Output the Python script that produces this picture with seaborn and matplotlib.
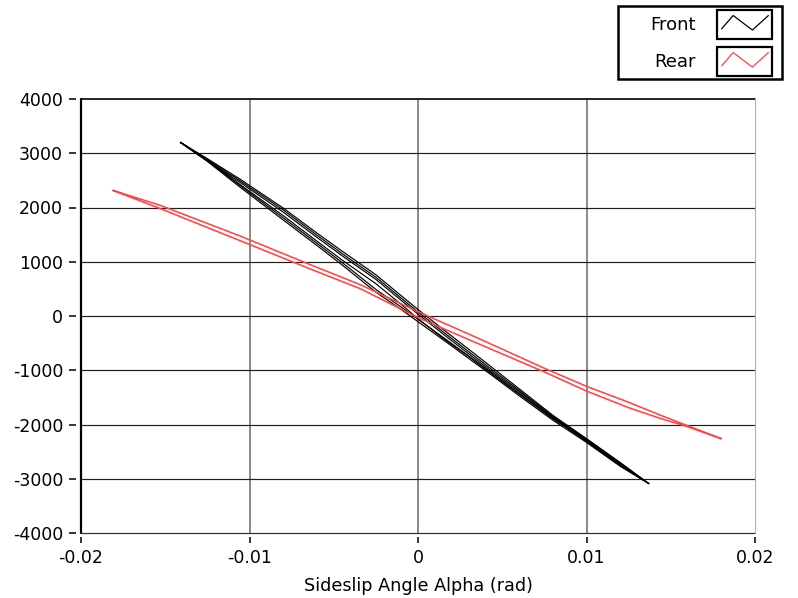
import numpy as np
import pandas as pd
import matplotlib
matplotlib.use("Agg")
import matplotlib.pyplot as plt
import seaborn as sns
from matplotlib.patches import Rectangle
from matplotlib.lines import Line2D
from matplotlib.legend_handler import HandlerBase

# ---------------- data ----------------
series_names = ["Front", "Rear"]
series_colors = ["#000000", "#ff4646"]

# Front axle: three hysteresis loops sharing the same alpha samples
front_alpha = [-0.0141, -0.0125, -0.0105, -0.0080, -0.0060, -0.0045, -0.0025, -0.0010, 0.0,
               0.0015, 0.0030, 0.0045, 0.0060, 0.0080, 0.0100, 0.0120, 0.0137]
front_up_a = [3200, 2900, 2510, 1990, 1530, 1195, 760, 375, 120, -250, -610, -975, -1340, -1830, -2260, -2700, -3090]
front_lo_a = [3200, 2850, 2360, 1770, 1300, 940, 440, 120, -105, -440, -780, -1120, -1470, -1920, -2330, -2770, -3090]
front_up_b = [3200, 2885, 2480, 1955, 1490, 1150, 715, 330, 75, -295, -655, -1015, -1370, -1850, -2270, -2715, -3090]
front_lo_b = [3200, 2860, 2390, 1810, 1340, 985, 490, 165, -60, -395, -735, -1075, -1425, -1880, -2315, -2760, -3090]
front_up_c = [3200, 2870, 2450, 1915, 1450, 1110, 675, 290, 35, -335, -695, -1050, -1395, -1865, -2280, -2725, -3090]
front_lo_c = [3200, 2860, 2410, 1850, 1380, 1030, 595, 215, -50, -415, -745, -1100, -1440, -1895, -2300, -2750, -3090]

# Rear axle: one narrow loop
rear_alpha = [-0.0181, -0.0153, -0.0106, -0.0065, -0.0034, 0.0, 0.0035, 0.0075, 0.0100, 0.0125, 0.0144, 0.0159, 0.0180]
rear_up = [2315, 2040, 1480, 960, 574, 80, -400, -963, -1296, -1590, -1830, -2010, -2262]
rear_lo = [2315, 1980, 1394, 880, 500, -30, -500, -1031, -1383, -1690, -1890, -2030, -2262]

x_ticks = [-0.02, -0.01, 0.0, 0.01, 0.02]
x_tick_labels = ["-0.02", "-0.01", "0", "0.01", "0.02"]
y_ticks = [-4000, -3000, -2000, -1000, 0, 1000, 2000, 3000, 4000]
y_tick_labels = ["-4000", "-3000", "-2000", "-1000", "0", "1000", "2000", "3000", "4000"]
x_label = "Sideslip Angle Alpha (rad)"

# ---------------- build long table ----------------
rows = []
def add_loop(name, unit, xs, up, lo):
    path_x = list(xs) + list(xs[::-1])[1:]
    path_y = list(up) + list(lo[::-1])[1:]
    for i, (a, f) in enumerate(zip(path_x, path_y)):
        rows.append(dict(series=name, unit=unit, order=i, alpha=a, force=f))

add_loop("Front", "fa", front_alpha, front_up_a, front_lo_a)
add_loop("Front", "fb", front_alpha, front_up_b, front_lo_b)
add_loop("Front", "fc", front_alpha, front_up_c, front_lo_c)
add_loop("Rear", "ra", rear_alpha, rear_up, rear_lo)
df = pd.DataFrame(rows)

# ---------------- figure ----------------
sns.set_style("white")
plt.rcParams["font.family"] = ["DejaVu Sans"]
plt.rcParams["axes.unicode_minus"] = False
plt.rcParams["text.color"] = "black"

W, H = 798, 598
fig = plt.figure(figsize=(W / 100, H / 100), dpi=100)
L, R, T, B = 81, 755, 99, 533
ax = fig.add_axes([L / W, 1 - B / H, (R - L) / W, (B - T) / H])

palette = dict(zip(series_names, series_colors))
sns.lineplot(data=df, x="alpha", y="force", hue="series", units="unit",
             estimator=None, sort=False, palette=palette, hue_order=series_names,
             legend=False, ax=ax, linewidth=0.85)
for ln in ax.get_lines():
    if matplotlib.colors.to_hex(ln.get_color()) == "#ff4646":
        ln.set_linewidth(1.15)
        ln.set_zorder(3)
    else:
        ln.set_zorder(2.5)

ax.set_xlim(x_ticks[0], x_ticks[-1])
ax.set_ylim(y_ticks[0], y_ticks[-1])
ax.set_xticks(x_ticks)
ax.set_xticklabels(x_tick_labels)
ax.set_yticks(y_ticks)
ax.set_yticklabels(y_tick_labels)
ax.set_xlabel(x_label, fontsize=12.7, labelpad=7, color="black")
ax.set_ylabel("")

# spines offset so that ticks sit apart from the frame
for s in ax.spines.values():
    s.set_visible(False)
ax.spines["left"].set_position(("outward", 3.6))
ax.spines["bottom"].set_position(("outward", 3.0))

ax.tick_params(axis="y", which="major", direction="out", length=5, width=1.1,
               pad=4.3, labelsize=12.5, colors="black", left=True)
ax.tick_params(axis="x", which="major", direction="out", length=4.3, width=1.1,
               pad=4.5, labelsize=12.5, colors="black", bottom=True)

ax.yaxis.grid(True, color="#1e1e1e", linewidth=0.85)
ax.xaxis.grid(True, color="#6a6a6a", linewidth=1.1)
ax.set_axisbelow(True)
for t in [ax.xaxis.get_major_ticks()[0], ax.xaxis.get_major_ticks()[-1],
          ax.yaxis.get_major_ticks()[0], ax.yaxis.get_major_ticks()[-1]]:
    t.gridline.set_visible(False)

# frame lines
ax.axvline(x_ticks[0], color="black", linewidth=1.6, clip_on=False, zorder=4)
ax.axhline(y_ticks[0], color="#333333", linewidth=0.9, clip_on=False, zorder=4)
ax.axhline(y_ticks[-1], color="black", linewidth=1.2, clip_on=False, zorder=4)
ax.axvline(x_ticks[-1], color="#b0b0b0", linewidth=0.8, clip_on=False, zorder=4)

# ---------------- legend ----------------
class ZigZagHandler(HandlerBase):
    def create_artists(self, legend, orig_handle, xdescent, ydescent, width, height, fontsize, trans):
        x0, y0 = -xdescent, -ydescent
        box = Rectangle((x0, y0), width, height, fill=False, edgecolor="black",
                        linewidth=1.6, transform=trans)
        fx = [0.08, 0.29, 0.64, 0.93]
        fy = [0.35, 0.81, 0.31, 0.81]
        zz = Line2D([x0 + f * width for f in fx], [y0 + f * height for f in fy],
                    color=orig_handle.get_color(), linewidth=0.9, transform=trans)
        return [box, zz]

handles = [Line2D([], [], color=c) for c in series_colors]
leg = fig.legend(handles, series_names, handler_map={Line2D: ZigZagHandler()},
                 loc="upper left", bbox_to_anchor=(650 / W, 1 - 10 / H),
                 bbox_transform=fig.transFigure, frameon=False, markerfirst=False,
                 fontsize=13, borderpad=0, borderaxespad=0, handlelength=3.05,
                 handleheight=2.1, labelspacing=0.44, handletextpad=1.2)
fig.patches.append(Rectangle((618 / W, 1 - 79 / H), 164 / W, 73 / H,
                             transform=fig.transFigure, fill=False,
                             edgecolor="black", linewidth=1.8))

fig.savefig("out.png", dpi=100)
